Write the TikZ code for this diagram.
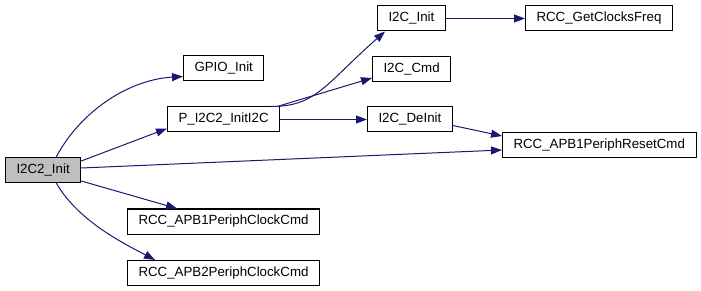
\documentclass[tikz,border=0pt]{standalone}
\usepackage{fontspec}
\setmainfont{Liberation Sans}
\usetikzlibrary{arrows.meta, positioning}
\definecolor{edgeBlue}{RGB}{25,25,112}
\definecolor{rootFill}{RGB}{191,191,191}

\begin{document}
\begin{tikzpicture}[
    x=1pt, y=-1pt,
    fn/.style={rectangle, draw=black, line width=1pt, fill=white, minimum height=25pt, inner xsep=11pt, anchor=west, font=\fontsize{13.3}{16}\selectfont},
    root/.style={fill=rootFill},
    arr/.style={-{Triangle[length=11pt, width=8pt]}, line width=1pt, edgeBlue},
]
\useasboundingbox (0,0) rectangle (701,291);

% ========== COLUMN 1: caller ==========
\node[fn, root] at (5,170) (i2c2init) {I2C2\_Init};

% ========== COLUMN 2 ==========
\node[fn] at (183,68.5) (gpio) {GPIO\_Init};
\node[fn] at (167,119.5) (pinit) {P\_I2C2\_InitI2C};
\node[fn] at (127,221.5) (apb1clk) {RCC\_APB1PeriphClockCmd};
\node[fn] at (127,273) (apb2clk) {RCC\_APB2PeriphClockCmd};

% ========== COLUMN 3 ==========
\node[fn] at (377,18.5) (i2cinit) {I2C\_Init};
\node[fn] at (372,69) (i2ccmd) {I2C\_Cmd};
\node[fn] at (367,119.5) (i2cdeinit) {I2C\_DeInit};

% ========== COLUMN 4 ==========
\node[fn] at (525,18.5) (clkfreq) {RCC\_GetClocksFreq};
\node[fn] at (502,145) (apb1rst) {RCC\_APB1PeriphResetCmd};

% ========== CALLS ==========

% --- from I2C2_Init ---
\draw[arr] ([xshift=-25pt]i2c2init.north east) .. controls +(25,-47) and +(-53,3) .. ([yshift=-8pt]gpio.west);
\draw[arr] ([yshift=9pt]i2c2init.east) -- ([yshift=-9pt]pinit.west);
\draw[arr] ([yshift=2pt]i2c2init.east) -- ([yshift=-5pt]apb1rst.west);
\draw[arr] ([yshift=-11pt]i2c2init.east) -- ([xshift=50pt]apb1clk.north west);
\draw[arr] ([xshift=-25pt]i2c2init.south east) .. controls +(22,38) and +(-32,-17) .. ([xshift=28pt]apb2clk.north west);

% --- from P_I2C2_InitI2C ---
\draw[arr] ([xshift=-9pt]pinit.north east) .. controls +(45,0) and +(-60,53) .. ([xshift=8pt]i2cinit.south west);
\draw[arr] ([xshift=-3pt]pinit.north east) -- ([yshift=-9pt]i2ccmd.west);
\draw[arr] (pinit) -- (i2cdeinit);

% --- deeper calls ---
\draw[arr] (i2cinit) -- (clkfreq);
\draw[arr] ([yshift=-6pt]i2cdeinit.east) -- ([yshift=9pt]apb1rst.west);

\end{tikzpicture}
\end{document}
